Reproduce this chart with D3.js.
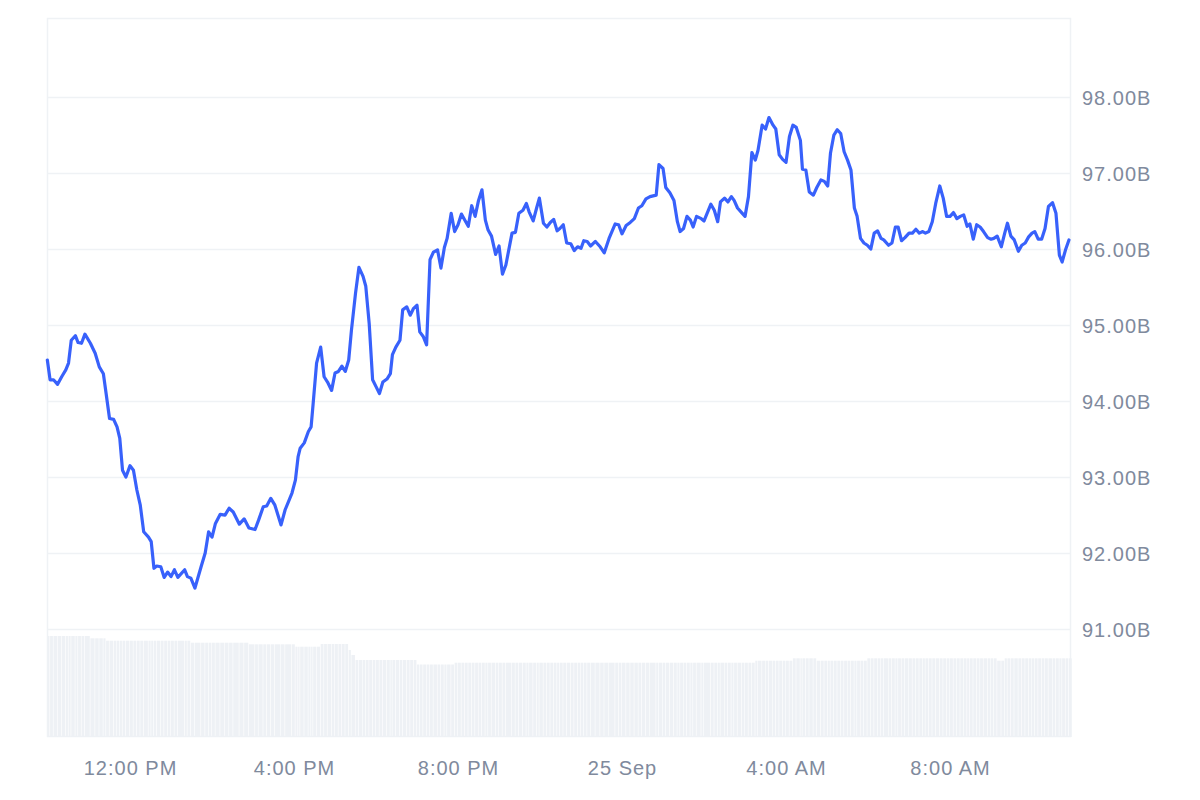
<!DOCTYPE html>
<html>
<head>
<meta charset="utf-8">
<script src="https://cdn.jsdelivr.net/npm/d3@7"></script>
<style>
  html, body { margin: 0; padding: 0; background: #fff; }
  svg { display: block; }
  .axis text { font-family: "Liberation Sans", Arial, sans-serif; fill: #808a9d; letter-spacing: 1px; }
</style>
</head>
<body>
<svg id="chart" width="1200" height="800"></svg>
<script>
// ---- data ----
const startTime = new Date(2024, 8, 24, 10, 0); // minutes below are offsets from this
const endOffset = 1497; // right edge of the plot, minutes
const minutes = [
  -1, 3, 8, 14, 20, 26, 30, 34, 40, 44,
  49, 54, 62, 69, 75, 81, 85, 90, 96, 101,
  105, 109, 114, 120, 125, 130, 135, 140, 147, 151,
  155, 159, 165, 170, 175, 180, 185, 190, 200, 204,
  209, 215, 224, 230, 235, 240, 245, 252, 259, 265,
  271, 280, 287, 294, 303, 308, 315, 320, 326, 332,
  341, 347, 357, 362, 366, 369, 375, 381, 385, 388,
  393, 399, 404, 409, 415, 420, 425, 430, 435, 440,
  444, 450, 455, 461, 465, 470, 475, 480, 485, 490,
  496, 501, 504, 509, 515, 519, 525, 530, 535, 540,
  544, 549, 554, 559, 564, 570, 575, 580, 584, 590,
  595, 600, 605, 610, 615, 620, 625, 630, 635, 640,
  644, 649, 655, 660, 665, 670, 679, 684, 689, 695,
  700, 704, 710, 715, 719, 725, 730, 735, 740, 745,
  749, 754, 759, 765, 770, 775, 780, 784, 789, 794,
  801, 808, 814, 821, 830, 835, 840, 846, 852, 858,
  864, 869, 875, 881, 890, 894, 900, 904, 910, 916,
  921, 925, 930, 935, 940, 944, 949, 956, 960, 970,
  975, 980, 984, 990, 995, 1000, 1004, 1009, 1015, 1020,
  1025, 1030, 1035, 1039, 1045, 1050, 1055, 1061, 1065, 1070,
  1075, 1080, 1085, 1090, 1095, 1101, 1104, 1109, 1114, 1120,
  1125, 1131, 1136, 1141, 1145, 1150, 1155, 1160, 1165, 1170,
  1175, 1180, 1184, 1189, 1194, 1199, 1204, 1209, 1214, 1219,
  1223, 1230, 1235, 1240, 1244, 1249, 1254, 1260, 1265, 1270,
  1275, 1280, 1284, 1289, 1294, 1299, 1305, 1310, 1315, 1320,
  1325, 1330, 1335, 1340, 1345, 1349, 1354, 1359, 1364, 1369,
  1375, 1380, 1384, 1389, 1395, 1400, 1404, 1409, 1414, 1420,
  1425, 1430, 1435, 1440, 1444, 1449, 1454, 1459, 1464, 1470,
  1475, 1480, 1484, 1489, 1494
];
const marketCap = [ // billions
  94.54, 94.28, 94.28, 94.22, 94.32, 94.41, 94.50, 94.80, 94.86, 94.77,
  94.76, 94.88, 94.76, 94.63, 94.45, 94.36, 94.10, 93.77, 93.76, 93.66,
  93.51, 93.09, 93.00, 93.15, 93.09, 92.83, 92.63, 92.28, 92.21, 92.15,
  91.80, 91.83, 91.82, 91.68, 91.75, 91.69, 91.78, 91.68, 91.78, 91.69,
  91.67, 91.54, 91.82, 92.00, 92.28, 92.21, 92.39, 92.51, 92.50, 92.59,
  92.54, 92.38, 92.45, 92.33, 92.31, 92.43, 92.61, 92.62, 92.72, 92.63,
  92.37, 92.57, 92.79, 92.96, 93.27, 93.38, 93.45, 93.60, 93.66, 93.97,
  94.50, 94.71, 94.32, 94.25, 94.14, 94.37, 94.39, 94.46, 94.39, 94.54,
  94.93, 95.42, 95.76, 95.64, 95.51, 95.02, 94.28, 94.19, 94.10, 94.25,
  94.29, 94.36, 94.61, 94.71, 94.80, 95.20, 95.24, 95.13, 95.22, 95.26,
  94.91, 94.85, 94.74, 95.86, 95.96, 95.99, 95.75, 96.02, 96.14, 96.47,
  96.23, 96.32, 96.46, 96.38, 96.30, 96.57, 96.43, 96.64, 96.78, 96.38,
  96.25, 96.17, 95.93, 96.04, 95.67, 95.79, 96.21, 96.22, 96.47, 96.51,
  96.60, 96.49, 96.37, 96.54, 96.67, 96.34, 96.29, 96.35, 96.39, 96.24,
  96.27, 96.32, 96.08, 96.07, 95.98, 96.03, 96.01, 96.11, 96.10, 96.04,
  96.10, 96.03, 95.95, 96.14, 96.33, 96.32, 96.20, 96.31, 96.35, 96.40,
  96.54, 96.57, 96.66, 96.69, 96.71, 97.11, 97.06, 96.81, 96.74, 96.64,
  96.36, 96.23, 96.27, 96.43, 96.38, 96.29, 96.43, 96.40, 96.37, 96.59,
  96.51, 96.36, 96.62, 96.67, 96.62, 96.69, 96.64, 96.54, 96.48, 96.43,
  96.69, 97.27, 97.17, 97.30, 97.63, 97.58, 97.73, 97.63, 97.58, 97.24,
  97.18, 97.14, 97.48, 97.63, 97.60, 97.43, 97.05, 97.04, 96.75, 96.71,
  96.81, 96.91, 96.89, 96.83, 97.26, 97.50, 97.57, 97.52, 97.28, 97.17,
  97.04, 96.54, 96.43, 96.14, 96.08, 96.05, 96.00, 96.21, 96.24, 96.14,
  96.12, 96.05, 96.08, 96.29, 96.29, 96.11, 96.15, 96.21, 96.21, 96.26,
  96.21, 96.23, 96.21, 96.23, 96.36, 96.60, 96.83, 96.67, 96.43, 96.43,
  96.48, 96.40, 96.43, 96.45, 96.30, 96.33, 96.13, 96.32, 96.29, 96.23,
  96.15, 96.13, 96.14, 96.17, 96.03, 96.21, 96.34, 96.17, 96.12, 95.97,
  96.05, 96.08, 96.16, 96.21, 96.23, 96.13, 96.13, 96.27, 96.56, 96.61,
  96.47, 95.92, 95.83, 95.99, 96.12
];
const volume = [ // billions, 24h volume
  10.1, 10.1, 10.1, 10.1, 10.1, 10.1, 10.1, 10.1, 10.1, 10.1,
  10.1, 10.1, 9.87, 9.87, 9.87, 9.87, 9.63, 9.63, 9.63, 9.63,
  9.63, 9.63, 9.63, 9.63, 9.63, 9.63, 9.63, 9.63, 9.63, 9.63,
  9.63, 9.63, 9.63, 9.63, 9.63, 9.63, 9.63, 9.63, 9.63, 9.63,
  9.43, 9.43, 9.43, 9.43, 9.43, 9.43, 9.43, 9.43, 9.43, 9.43,
  9.43, 9.43, 9.43, 9.27, 9.27, 9.27, 9.27, 9.27, 9.27, 9.27,
  9.27, 9.27, 9.27, 9.03, 9.03, 9.03, 9.03, 9.03, 9.03, 9.03,
  9.03, 9.30, 9.30, 9.30, 9.30, 9.30, 9.30, 9.30, 9.30, 8.7,
  8.2, 7.7, 7.7, 7.7, 7.7, 7.7, 7.7, 7.7, 7.7, 7.7,
  7.7, 7.7, 7.7, 7.7, 7.7, 7.7, 7.7, 7.7, 7.7, 7.25,
  7.25, 7.25, 7.25, 7.25, 7.25, 7.25, 7.25, 7.25, 7.25, 7.25,
  7.43, 7.43, 7.43, 7.43, 7.43, 7.43, 7.43, 7.43, 7.43, 7.43,
  7.43, 7.43, 7.43, 7.43, 7.43, 7.43, 7.43, 7.43, 7.43, 7.43,
  7.43, 7.43, 7.43, 7.43, 7.43, 7.43, 7.43, 7.43, 7.43, 7.43,
  7.43, 7.43, 7.43, 7.43, 7.43, 7.43, 7.43, 7.43, 7.43, 7.43,
  7.43, 7.43, 7.43, 7.43, 7.43, 7.43, 7.43, 7.43, 7.43, 7.43,
  7.43, 7.43, 7.43, 7.43, 7.43, 7.43, 7.43, 7.43, 7.43, 7.43,
  7.43, 7.43, 7.43, 7.43, 7.43, 7.43, 7.43, 7.43, 7.43, 7.43,
  7.43, 7.43, 7.43, 7.43, 7.43, 7.43, 7.43, 7.43, 7.43, 7.43,
  7.43, 7.43, 7.63, 7.63, 7.63, 7.63, 7.63, 7.63, 7.63, 7.63,
  7.63, 7.63, 7.63, 7.87, 7.87, 7.87, 7.87, 7.87, 7.87, 7.87,
  7.63, 7.63, 7.63, 7.63, 7.63, 7.63, 7.63, 7.63, 7.63, 7.63,
  7.63, 7.63, 7.63, 7.63, 7.63, 7.87, 7.87, 7.87, 7.87, 7.87,
  7.87, 7.87, 7.87, 7.87, 7.87, 7.87, 7.87, 7.87, 7.87, 7.87,
  7.87, 7.87, 7.87, 7.87, 7.87, 7.87, 7.87, 7.87, 7.87, 7.87,
  7.87, 7.87, 7.87, 7.87, 7.87, 7.87, 7.87, 7.87, 7.87, 7.87,
  7.87, 7.87, 7.87, 7.63, 7.63, 7.87, 7.87, 7.87, 7.87, 7.87,
  7.87, 7.87, 7.87, 7.87, 7.87, 7.87, 7.87, 7.87, 7.87, 7.87,
  7.87, 7.87, 7.87, 7.87, 7.87
];
const yTickValues = [91, 92, 93, 94, 95, 96, 97, 98];
const yDomain = [89.58, 99.04];
const volumeDomain = [0, 12];

// ---- layout ----
const plot = { left: 47, top: 18, right: 1071, bottom: 737 };
const toDate = m => new Date(startTime.getTime() + m * 60000);
const data = minutes.map((m, i) => ({ t: toDate(m), v: marketCap[i], vol: volume[i] }));

const svg = d3.select("#chart");

const x = d3.scaleTime()
  .domain([toDate(-1.5), toDate(endOffset)])
  .range([plot.left, plot.right]);
const y = d3.scaleLinear().domain(yDomain).range([plot.bottom, plot.top]);
const yVol = d3.scaleLinear().domain(volumeDomain).range([plot.bottom, plot.bottom - 120]);

// frame
svg.append("rect")
  .attr("x", plot.left + 0.5).attr("y", plot.top + 0.5)
  .attr("width", plot.right - plot.left - 1).attr("height", plot.bottom - plot.top - 1)
  .attr("fill", "none").attr("stroke", "#eff2f5").attr("stroke-width", 1.5);

// grid lines
svg.append("g").selectAll("line").data(yTickValues).join("line")
  .attr("x1", plot.left).attr("x2", plot.right)
  .attr("y1", d => Math.round(y(d)) + 0.5).attr("y2", d => Math.round(y(d)) + 0.5)
  .attr("stroke", "#eff2f5").attr("stroke-width", 1.5);

// volume bars
svg.append("g").selectAll("rect").data(data).join("rect")
  .attr("x", d => x(d.t))
  .attr("width", (d, i) => {
    const next = i < data.length - 1 ? x(data[i + 1].t) : x(d.t) + 3.4;
    return Math.max(next - x(d.t) - 0.6, 0.5);
  })
  .attr("y", d => yVol(d.vol))
  .attr("height", d => yVol(0) - yVol(d.vol))
  .attr("fill", "#eef1f5");

// price line
const line = d3.line().x(d => x(d.t)).y(d => y(d.v)).curve(d3.curveLinear);
svg.append("path").datum(data)
  .attr("d", line)
  .attr("fill", "none")
  .attr("stroke", "#3861fb")
  .attr("stroke-width", 3.2)
  .attr("stroke-linejoin", "round")
  .attr("stroke-linecap", "round");

// y axis (right)
const yAxis = d3.axisRight(y).tickValues(yTickValues).tickSize(0).tickPadding(0)
  .tickFormat(d => d3.format(".2f")(d) + "B");
const gy = svg.append("g").attr("class", "axis").attr("transform", `translate(${plot.right + 11},0)`).call(yAxis);
gy.select(".domain").remove();
gy.selectAll("text").attr("font-size", 20).attr("dy", "0.35em");

// x axis (bottom)
const fmtTime = d3.timeFormat("%-I:%M %p");
const fmtDay = d3.timeFormat("%-d %b");
const xAxis = d3.axisBottom(x).ticks(d3.timeHour.every(4)).tickSize(0).tickPadding(0)
  .tickFormat(d => d.getHours() === 0 ? fmtDay(d) : fmtTime(d));
const gx = svg.append("g").attr("class", "axis").attr("transform", `translate(0,${plot.bottom})`).call(xAxis);
gx.select(".domain").remove();
gx.selectAll("text").attr("font-size", 20).attr("dy", "0").attr("y", 38);
</script>
</body>
</html>
